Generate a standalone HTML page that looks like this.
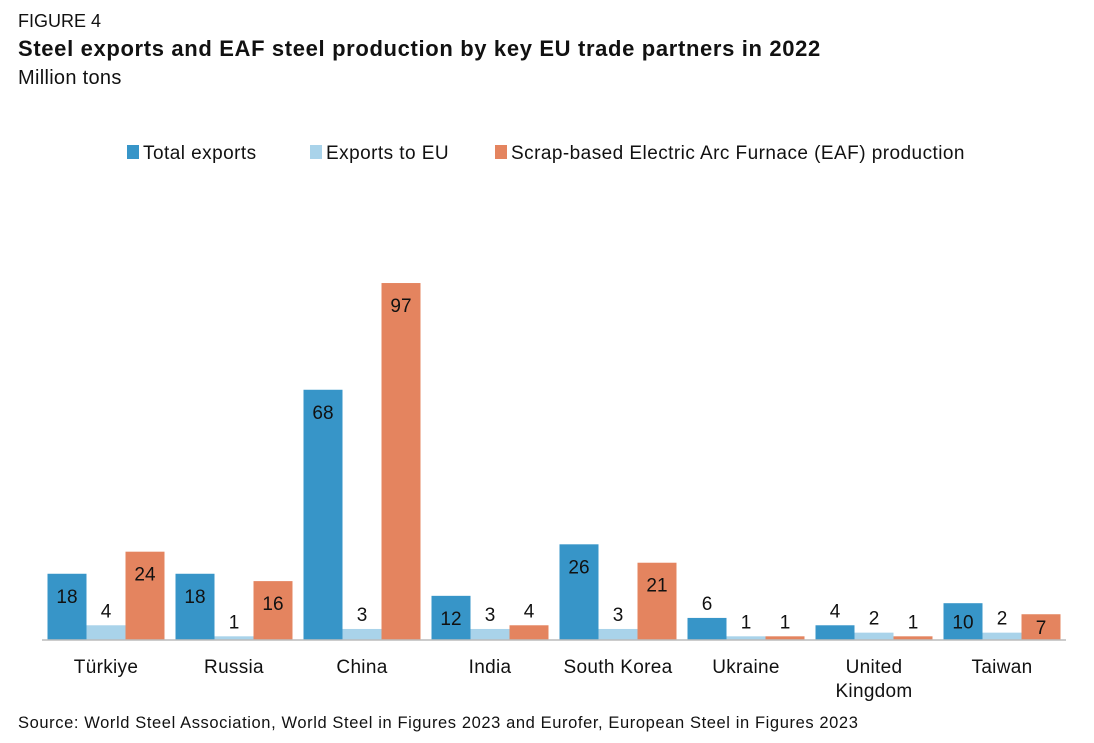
<!DOCTYPE html>
<html><head><meta charset="utf-8"><style>
body{margin:0;background:#fff;font-family:"Liberation Sans",sans-serif;}
#wrap{position:relative;width:1094px;height:743px;overflow:hidden;}
.t{position:absolute;left:18px;color:#111;white-space:nowrap;}
</style></head><body>
<div id="wrap">
<div class="t" style="top:11px;font-size:18px;">FIGURE 4</div>
<div class="t" style="top:36px;font-size:22px;font-weight:bold;letter-spacing:0.65px;">Steel exports and EAF steel production by key EU trade partners in 2022</div>
<div class="t" style="top:67px;font-size:20px;letter-spacing:0.3px;">Million tons</div>
<div class="t" style="top:714px;font-size:16.5px;letter-spacing:0.6px;">Source: World Steel Association, World Steel in Figures 2023 and Eurofer, European Steel in Figures 2023</div>
<svg id="chart" width="1094" height="743" style="position:absolute;left:0;top:0"></svg>
</div>
<script>
const categories=["Türkiye","Russia","China","India","South Korea","Ukraine","United Kingdom","Taiwan"];
const totalExports=[18,18,68,12,26,6,4,10];
const exportsToEU=[4,1,3,3,3,1,2,2];
const eafProduction=[24,16,97,4,21,1,1,7];
const seriesNames=["Total exports","Exports to EU","Scrap-based Electric Arc Furnace (EAF) production"];
const colors=["#3795c8","#a9d3ea","#e4845f"];
const NS="http://www.w3.org/2000/svg";
const svg=document.getElementById('chart');
const base=640, scale=3.68, x0=42, groupW=128, barW=39;
function y(v){return base-v*scale;}
function gx(i){return x0+i*groupW+groupW/2;}
function mk(tag,attrs){const e=document.createElementNS(NS,tag);for(const k in attrs)e.setAttribute(k,attrs[k]);svg.appendChild(e);return e;}
const series=[totalExports,exportsToEU,eafProduction];
series.forEach((vals,s)=>{
  vals.forEach((v,i)=>{
    const x=gx(i)-1.5*barW+s*barW;
    const top=y(v), h=base-top;
    const r=mk('rect',{x:x,y:top,width:barW,height:h,fill:colors[s]});
    
    
    const ly=v>6?top+Math.min(22,h/2)+7:top-8;
    const t=mk('text',{x:x+barW/2,y:ly,'text-anchor':'middle','font-size':19,fill:'#111','font-family':'Liberation Sans, sans-serif'});
    t.textContent=v;
    
    
  });
});
const ax=mk('line',{x1:x0,x2:x0+groupW*8,y1:base,y2:base,stroke:'#bbb','stroke-width':1.5});


categories.forEach((c,i)=>{
  const parts=c==="United Kingdom"?["United","Kingdom"]:[c];
  parts.forEach((p,j)=>{
    const t=mk('text',{x:gx(i),y:673+j*24,'text-anchor':'middle','font-size':19,'letter-spacing':0.3,fill:'#111','font-family':'Liberation Sans, sans-serif'});
    t.textContent=p;
    
    
  });
});
const lx=[127,310,495];
seriesNames.forEach((n,s)=>{
  const r=mk('rect',{x:lx[s],y:145,width:12,height:14,fill:colors[s]});
  
  
  const t=mk('text',{x:lx[s]+16,y:159,'font-size':19,'letter-spacing':0.45,fill:'#111','font-family':'Liberation Sans, sans-serif'});
  t.textContent=n;
  
  
});
</script>
</body></html>
